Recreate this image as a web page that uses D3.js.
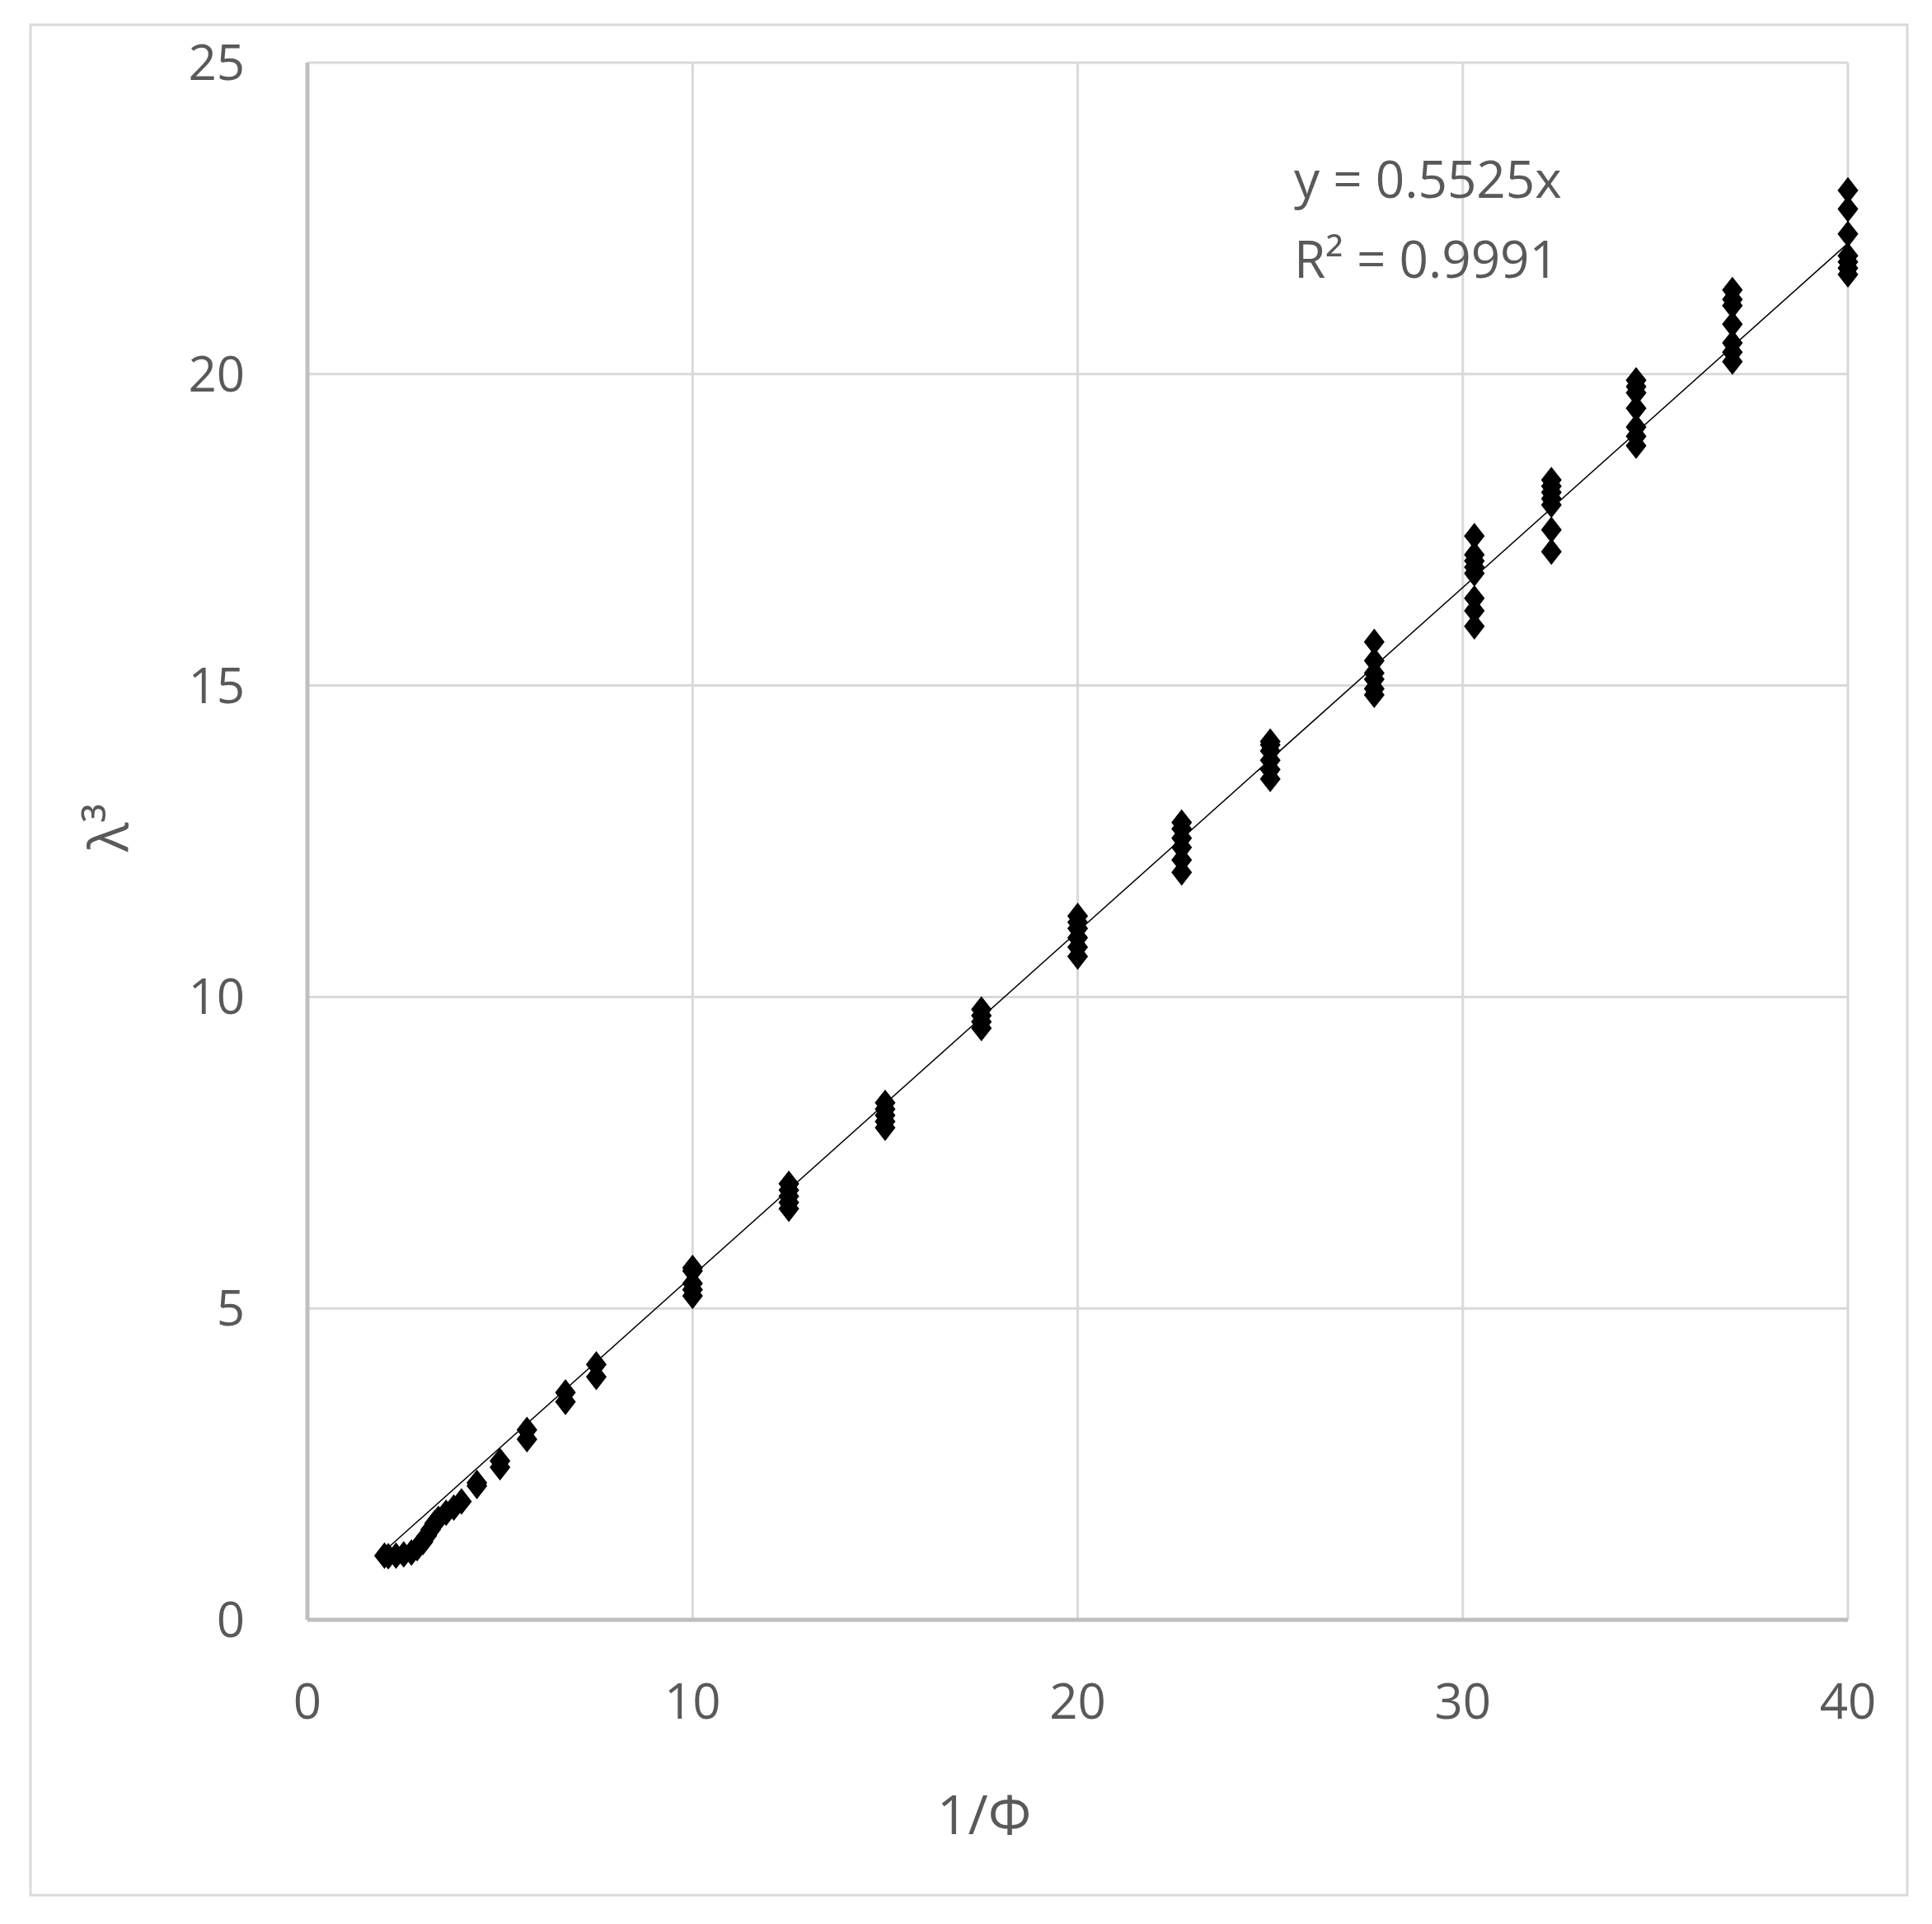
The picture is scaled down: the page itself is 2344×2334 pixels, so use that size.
<!DOCTYPE html>
<html><head><meta charset="utf-8">
<script src="https://cdn.jsdelivr.net/npm/d3@7"></script>
<style>body{margin:0;background:#fff}text{font-family:"Open Sans",Carlito,sans-serif;fill:#595959}</style>
</head><body>
<svg id="c" width="2344" height="2334"></svg>
<script>
// columns of 1/phi and the lambda^3 values measured at each
var lowX = [2, 2.1, 2.3, 2.5, 2.7, 2.85, 3, 3.1, 3.2, 3.3, 3.4, 3.6, 3.8, 4, 4.4, 4.4, 5, 5, 5.7, 5.7, 6.7, 6.7, 7.5, 7.5];
var lowY = [1.03, 1.02, 1.03, 1.05, 1.08, 1.15, 1.25, 1.35, 1.45, 1.55, 1.62, 1.72, 1.8, 1.9, 2.15, 2.2, 2.45, 2.55, 2.9, 3.05, 3.5, 3.65, 3.9, 4.1];
var colX = [10, 12.5, 15, 17.5, 20, 22.7, 25, 27.7, 30.3, 32.3, 34.5, 37, 40];
var colY = [
  [5.2, 5.3, 5.4, 5.6, 5.65],
  [6.6, 6.7, 6.8, 6.9, 7.0],
  [7.9, 8.0, 8.1, 8.2, 8.3],
  [9.5, 9.6, 9.7, 9.8],
  [10.65, 10.8, 10.95, 11.1, 11.2, 11.3],
  [12.0, 12.2, 12.4, 12.55, 12.7, 12.8],
  [13.5, 13.65, 13.8, 13.95, 14.05, 14.1],
  [14.85, 14.95, 15.1, 15.2, 15.4, 15.7],
  [15.95, 16.2, 16.4, 16.8, 16.9, 17.0, 17.1, 17.4],
  [17.15, 17.5, 17.9, 18.0, 18.1, 18.2, 18.3],
  [18.85, 19.0, 19.15, 19.45, 19.7, 19.8, 19.9],
  [20.2, 20.35, 20.5, 20.8, 21.1, 21.2, 21.35],
  [21.6, 21.7, 21.8, 21.9, 22.25, 22.65, 22.95]
];
var xTicks = [0, 10, 20, 30, 40];
var yTicks = [0, 5, 10, 15, 20, 25];
var slope = 0.5525;
var trendX = [2, 40];

var svg = d3.select("#c");
var x = d3.scaleLinear().domain([0, 40]).range([373, 2242]);
var y = d3.scaleLinear().domain([0, 25]).range([1965, 76]);

svg.append("rect").attr("x", 37).attr("y", 30).attr("width", 2277).attr("height", 2269)
  .attr("fill", "#fff").attr("stroke", "#d9d9d9").attr("stroke-width", 3);

// gridlines
svg.selectAll(".gx").data(xTicks.slice(1)).enter().append("line")
  .attr("x1", d => x(d)).attr("x2", d => x(d)).attr("y1", y(25)).attr("y2", y(0))
  .attr("stroke", "#d9d9d9").attr("stroke-width", 3);
svg.selectAll(".gy").data(yTicks.slice(1)).enter().append("line")
  .attr("x1", x(0)).attr("x2", x(40)).attr("y1", d => y(d)).attr("y2", d => y(d))
  .attr("stroke", "#d9d9d9").attr("stroke-width", 3);
// axis lines
svg.append("line").attr("x1", x(0)).attr("x2", x(40)).attr("y1", y(0)).attr("y2", y(0))
  .attr("stroke", "#bfbfbf").attr("stroke-width", 5);
svg.append("line").attr("x1", x(0)).attr("x2", x(0)).attr("y1", y(0)).attr("y2", y(25))
  .attr("stroke", "#bfbfbf").attr("stroke-width", 5);

svg.selectAll(".tx").data(xTicks).enter().append("text")
  .attr("x", d => x(d)).attr("y", 2085).attr("text-anchor", "middle")
  .attr("font-size", 60).text(d => d);
svg.selectAll(".ty").data(yTicks).enter().append("text")
  .attr("x", 297).attr("y", d => y(d) + 21).attr("text-anchor", "end")
  .attr("font-size", 60).text(d => d);

// points
var pts = [];
lowX.forEach(function(v, i){ pts.push([v, lowY[i]]); });
colX.forEach(function(v, i){ colY[i].forEach(function(w){ pts.push([v, w]); }); });
var sym = d3.symbol().type(d3.symbolDiamond).size(300);
svg.selectAll(".p").data(pts).enter().append("path")
  .attr("d", sym).attr("transform", d => "translate(" + x(d[0]) + "," + y(d[1]) + ") scale(1.35,1)")
  .attr("fill", "#000");

// trendline
svg.append("line").attr("x1", x(trendX[0])).attr("y1", y(trendX[0] * slope))
  .attr("x2", x(trendX[1])).attr("y2", y(trendX[1] * slope))
  .attr("stroke", "#000").attr("stroke-width", 1.5);

svg.append("text").attr("x", 1570).attr("y", 240).attr("font-size", 62).text("y = 0.5525x");
svg.append("text").attr("x", 1570).attr("y", 337).attr("font-size", 62).text("R² = 0.9991");

svg.append("text").attr("x", 1194).attr("y", 2225).attr("text-anchor", "middle")
  .attr("font-size", 66).text("1/Φ");
svg.append("text").attr("transform", "translate(155,1004) rotate(-90)").attr("text-anchor", "middle")
  .attr("font-size", 66).text("λ³");
</script>
</body></html>
